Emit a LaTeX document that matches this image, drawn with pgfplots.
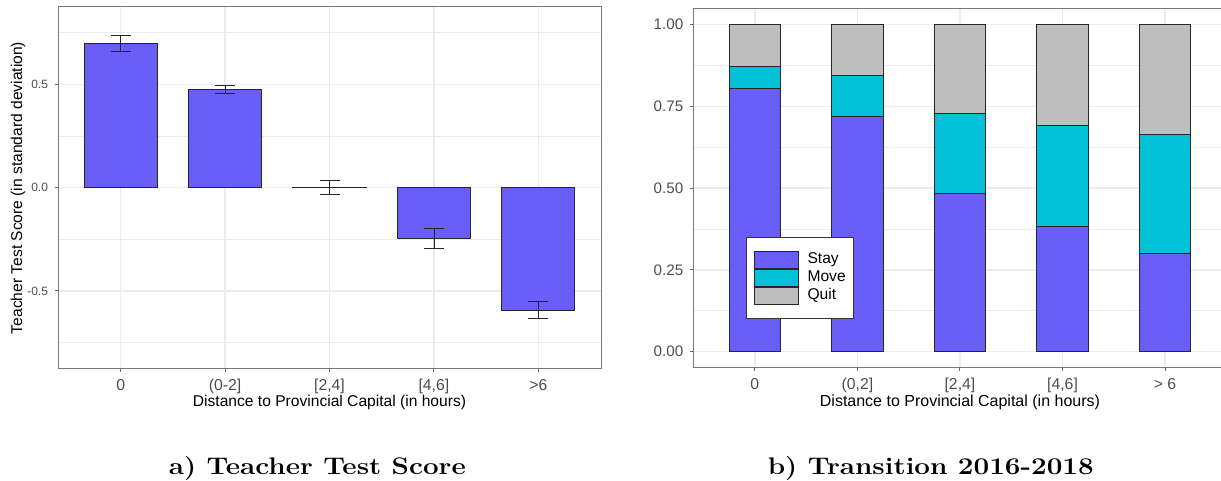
\documentclass[border=0pt]{standalone}
\usepackage{fontspec}
\usepackage{pgfplots}
\pgfplotsset{compat=1.18}
\newfontfamily\arial{Liberation Sans}

\definecolor{stay}{RGB}{106,94,248}
\definecolor{move}{RGB}{3,193,214}
\definecolor{quit}{RGB}{190,190,190}
\definecolor{gridc}{RGB}{235,235,235}
\definecolor{ticktext}{RGB}{77,77,77}
\definecolor{frame}{RGB}{120,120,120}

\pgfplotsset{
  ggbase/.style={
    scale only axis,
    anchor=south west,
    xmin=0.4, xmax=5.6,
    xtick={1,2,3,4,5},
    tick pos=left,
    tick align=outside,
    major tick length=1.5pt,
    minor tick length=0pt,
    tick style={color=black!60, line width=0.5pt},
    grid=both,
    major grid style={color=gridc, line width=0.7pt},
    minor grid style={color=gridc, line width=0.4pt},
    axis line style={color=frame, line width=0.5pt},
    ticklabel style={text=ticktext},
    label style={font=\arial\fontsize{7.8}{9}\selectfont, text=black},
  },
  barline/.style={draw=black!85, line width=0.5pt},
}

\begin{document}
\begin{tikzpicture}

% a) mean teacher test score by travel time
\begin{axis}[ggbase,
  at={(29pt,56pt)}, width=271.5pt, height=181pt,
  ymin=-0.878, ymax=0.875,
  ytick={-0.5,0,0.5}, yticklabels={-0.5,0.0,0.5},
  minor ytick={-0.75,-0.25,0.25,0.75},
  xticklabels={0,{(0-2]},{[2,4]},{[4,6]},{>6}},
  xticklabel style={font=\arial\fontsize{7.9}{9}\selectfont},
  yticklabel style={font=\arial\fontsize{6}{7}\selectfont},
  xlabel={Distance to Provincial Capital (in hours)},
  ylabel={Teacher Test Score (in standard deviation)},
  xlabel style={at={(axis description cs:0.5,-0.093)}, anchor=center},
  ylabel style={at={(axis description cs:-0.0737,0.5)}, anchor=center},
]
\addplot[ybar, bar width=0.7, fill=stay, barline,
  error bars/.cd, y dir=both, y explicit,
  error bar style={black!85, line width=0.4pt},
  error mark=-,
  error mark options={black!85, line width=0.4pt, mark size=5pt, rotate=90}]
  coordinates {
    (1,0.699)  +- (0,0.039)
    (2,0.474)  +- (0,0.019)
    (3,0.002)  +- (0,0.034)
    (4,-0.247) +- (0,0.048)
    (5,-0.594) +- (0,0.041)
  };
\end{axis}

% b) share of teachers who stay, move or quit
\begin{axis}[ggbase,
  at={(346.65pt,56.5pt)}, width=266.65pt, height=179.85pt,
  ymin=-0.05, ymax=1.05,
  ytick={0,0.25,0.5,0.75,1}, yticklabels={0.00,0.25,0.50,0.75,1.00},
  minor ytick={0.125,0.375,0.625,0.875},
  xticklabels={0,{(0,2]},{[2,4]},{[4,6]},{> 6}},
  xticklabel style={font=\arial\fontsize{7.9}{9}\selectfont},
  yticklabel style={font=\arial\fontsize{7.6}{9}\selectfont},
  xlabel={Distance to Provincial Capital (in hours)},
  xlabel style={font=\arial\fontsize{8}{9}\selectfont, at={(axis description cs:0.5,-0.096)}, anchor=center},
  ybar stacked, bar width=0.5,
  legend style={at={(0.098,0.137)}, anchor=south west,
    draw=black!80, line width=0.4pt, fill=white,
    font=\arial\fontsize{7.8}{9}\selectfont,
    inner xsep=3.8pt, inner ysep=6.75pt,
    row sep=0pt, column sep=4.5pt,
    nodes={inner sep=0pt, anchor=west}},
  legend image code/.code={\draw[#1, draw=black!85, line width=0.5pt] (0pt,-4.25pt) rectangle (22pt,4.25pt);},
]
\addplot[fill=stay, barline] coordinates {(1,0.806) (2,0.718) (3,0.483) (4,0.383) (5,0.299)};
\addlegendentry{Stay}
\addplot[fill=move, barline] coordinates {(1,0.066) (2,0.126) (3,0.244) (4,0.308) (5,0.364)};
\addlegendentry{Move}
\addplot[fill=quit, barline] coordinates {(1,0.128) (2,0.156) (3,0.273) (4,0.309) (5,0.337)};
\addlegendentry{Quit}
\end{axis}

\node[anchor=base, xscale=1.16, font=\fontsize{12}{14}\selectfont\bfseries] at (158.65pt,3pt) {a) Teacher Test Score};
\node[anchor=base, xscale=1.16, font=\fontsize{12}{14}\selectfont\bfseries] at (465.4pt,3pt) {b) Transition 2016-2018};

\pgfresetboundingbox
\path[use as bounding box] (0,0) rectangle (610.5pt,240.5pt);
\end{tikzpicture}
\end{document}
